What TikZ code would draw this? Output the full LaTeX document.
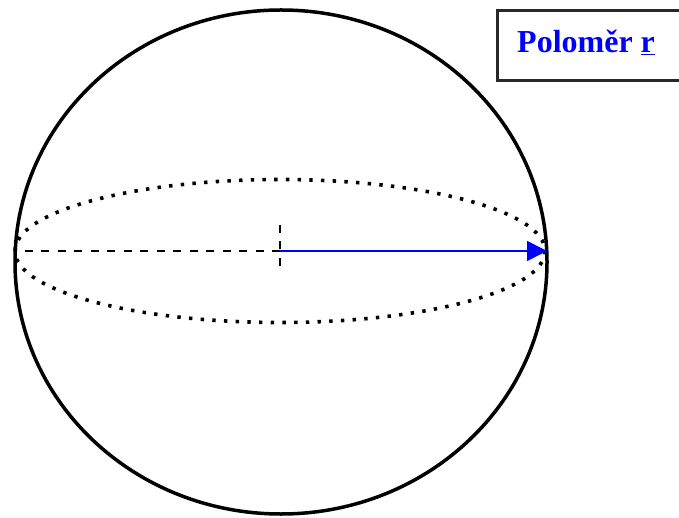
\documentclass[tikz,border=0pt]{standalone}
\usepackage{fontspec}
\setmainfont{Liberation Serif}
\usetikzlibrary{arrows.meta}
\definecolor{pureblue}{RGB}{0,0,255}
\definecolor{boxedge}{RGB}{40,40,40}
\tikzset{
  sphere/.style={line width=3.5pt, black},
  equator/.style={line width=3.6pt, black, dash pattern=on 3.4pt off 8.3pt},
  hidden/.style={line width=1.2pt, black, dash pattern=on 8pt off 8.5pt},
  radius arrow/.style={line width=1.6pt, pureblue, -{Triangle[length=20pt,width=20pt]}},
  labelbox/.style={draw=boxedge, line width=3pt, fill=white},
  labeltext/.style={text=pureblue, font=\fontsize{32}{36}\selectfont\bfseries, inner sep=0pt, anchor=base west}
}
\begin{document}
\begin{tikzpicture}[x=1pt,y=-1pt]
\useasboundingbox (0,0) rectangle (679,518);
% sphere outline
\draw[sphere] (281,262) ellipse [x radius=266, y radius=252];
% equator
\draw[equator] (280,251) ellipse [x radius=265, y radius=71.5];
% centre and edge points
\coordinate (c) at (280,251);
\coordinate (l) at (15,251);
\coordinate (rt) at (547,251);
\coordinate (tt) at (280,225);
\coordinate (tb) at (280,267);
\draw[hidden] (c) -- (l);
\draw[hidden] (tt) -- (tb);
\draw[radius arrow] (c) -- (rt);
% label box
\draw[labelbox] (497,11) rectangle (700,81);
\node[labeltext] (lab) at (517,53) {Poloměr \underline{r}};
\end{tikzpicture}
\end{document}
